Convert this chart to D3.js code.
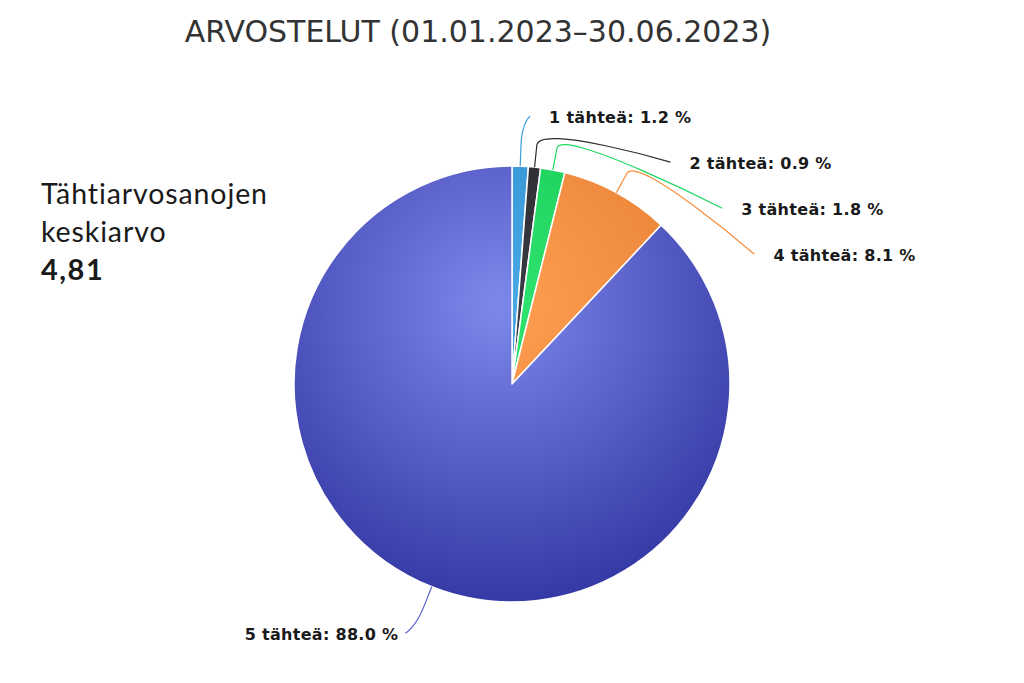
<!DOCTYPE html>
<html>
<head>
<meta charset="utf-8">
<script src="https://cdn.jsdelivr.net/npm/d3@7"></script>
<style>
  html, body { margin: 0; padding: 0; background: #ffffff; }
  svg { display: block; }
</style>
</head>
<body>
<svg id="chart" width="1024" height="683"></svg>
<script>
// ---- data ----
const categories = ["1 tähteä", "2 tähteä", "3 tähteä", "4 tähteä", "5 tähteä"];
const shares = [1.2, 0.9, 1.8, 8.1, 88.0];
const titleText = "ARVOSTELUT (01.01.2023\u201330.06.2023)";
const sideLines = ["Tähtiarvosanojen", "keskiarvo"];
const averageText = "4,81";

// ---- style ----
const baseColors = ["#3a9bdc", "#2c2c33", "#1fd860", "#f88c3c", "#5a5ed0"];
const lightColors = ["#49a8e6", "#3a3a42", "#2ee56e", "#ff9e52", "#7e88ec"];
const darkColors = ["#2c86c4", "#222228", "#12bf50", "#e0782a", "#2d319e"];

const W = 1024, H = 683;
const cx = 512, cy = 384, r = 218;

const svg = d3.select("#chart");
const defs = svg.append("defs");

categories.forEach((c, i) => {
  const g = defs.append("radialGradient")
    .attr("id", "grad" + i)
    .attr("gradientUnits", "userSpaceOnUse")
    .attr("cx", -15).attr("cy", -80).attr("r", 330);
  g.append("stop").attr("offset", "0%").attr("stop-color", lightColors[i]);
  g.append("stop").attr("offset", "100%").attr("stop-color", darkColors[i]);
});

// title
svg.append("text")
  .attr("x", 478).attr("y", 31)
  .attr("text-anchor", "middle")
  .attr("dominant-baseline", "central")
  .attr("font-family", "DejaVu Sans, sans-serif")
  .attr("font-size", 30)
  .attr("fill", "#333333")
  .text(titleText);

// side text
const side = svg.append("g").attr("font-family", "Lato, sans-serif").attr("fill", "#1a1a1a");
sideLines.forEach((t, i) => {
  side.append("text")
    .attr("x", 41).attr("y", 193 + i * 38)
    .attr("dominant-baseline", "central")
    .attr("font-size", 28.5)
    .attr("letter-spacing", 0.9)
    .text(t);
});
side.append("text")
  .attr("x", 41).attr("y", 268)
  .attr("dominant-baseline", "central")
  .attr("font-size", 29)
  .attr("letter-spacing", 1.5)
  .attr("font-weight", "bold")
  .text(averageText);

// pie
const data = categories.map((c, i) => ({ name: c, value: shares[i], i }));
const pie = d3.pie().value(d => d.value).sort(null);
const arcs = pie(data);
const arc = d3.arc().innerRadius(0).outerRadius(r);

const g = svg.append("g").attr("transform", `translate(${cx},${cy})`);
g.selectAll("path.slice")
  .data(arcs)
  .enter().append("path")
  .attr("class", "slice")
  .attr("d", arc)
  .attr("fill", d => `url(#grad${d.data.i})`)
  .attr("stroke", "#ffffff")
  .attr("stroke-width", 1.5)
  .attr("stroke-linejoin", "round");

// labels layout
const labelR = r + 50;
const breakR = r + 22;
const slotH = 46;
const pos = (rad, a) => [cx + rad * Math.sin(a), cy - rad * Math.cos(a)];

const labels = arcs.map(a => {
  const mid = (a.startAngle + a.endAngle) / 2;
  const right = mid < Math.PI;
  const y0 = cy - labelR * Math.cos(mid);
  return { a, mid, right, y: y0 };
});
let lastY = -Infinity;
labels.filter(l => l.right).forEach(l => {
  if (l.y < lastY + slotH) l.y = lastY + slotH;
  lastY = l.y;
});
labels.forEach(l => {
  const dy = l.y - cy;
  const dx = Math.sqrt(Math.max(0, labelR * labelR - dy * dy)) + 8;
  l.x = l.right ? cx + dx : cx - dx;
});

const conn = svg.append("g").attr("fill", "none").attr("stroke-width", 1.2);
labels.forEach(l => {
  const E = pos(r, l.mid);
  const B = pos(breakR, l.mid);
  const p = d3.path();
  p.moveTo(l.x, l.y);
  p.bezierCurveTo(l.x, l.y, 2 * B[0] - E[0], 2 * B[1] - E[1], B[0], B[1]);
  p.lineTo(E[0], E[1]);
  conn.append("path")
    .attr("d", p.toString())
    .attr("stroke", baseColors[l.a.data.i]);
});

const lab = svg.append("g")
  .attr("font-family", "DejaVu Sans, sans-serif")
  .attr("font-weight", "bold")
  .attr("font-size", 16)
  .attr("letter-spacing", 0.3)
  .attr("fill", "#1a1a1a");
labels.forEach(l => {
  lab.append("text")
    .attr("x", l.right ? l.x + 19 : l.x - 7)
    .attr("y", l.y + 1)
    .attr("text-anchor", l.right ? "start" : "end")
    .attr("dominant-baseline", "central")
    .text(`${l.a.data.name}: ${l.a.data.value.toFixed(1)} %`);
});
</script>
</body>
</html>
